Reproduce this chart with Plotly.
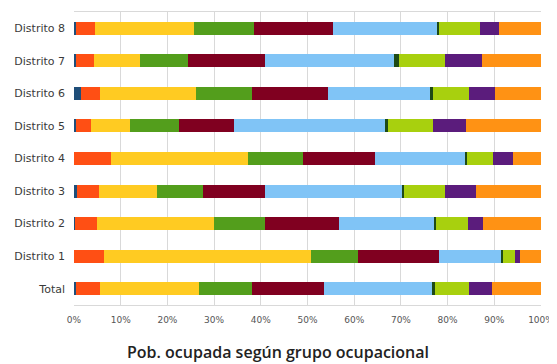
import plotly.graph_objects as go

categories = ["Total", "Distrito 1", "Distrito 2", "Distrito 3", "Distrito 4",
              "Distrito 5", "Distrito 6", "Distrito 7", "Distrito 8"]

g1 = [0.5, 0.0, 0.2, 0.7, 0.0, 0.5, 1.5, 0.4, 0.5]
g2 = [5.1, 6.4, 4.8, 4.7, 8.0, 3.1, 4.1, 3.9, 4.0]
g3 = [21.2, 44.3, 24.9, 12.3, 29.3, 8.3, 20.6, 9.8, 21.2]
g4 = [11.4, 10.2, 11.1, 9.9, 11.8, 10.5, 11.9, 10.3, 12.9]
g5 = [15.3, 17.2, 15.7, 13.4, 15.3, 11.9, 16.2, 16.6, 16.8]
g6 = [23.2, 13.5, 20.4, 29.2, 19.3, 32.3, 21.9, 27.5, 22.5]
g7 = [0.7, 0.3, 0.5, 0.5, 0.5, 0.6, 0.6, 1.0, 0.3]
g8 = [7.2, 2.5, 6.7, 8.7, 5.6, 9.7, 7.8, 10.0, 8.8]
g9 = [5.0, 1.2, 3.3, 6.6, 4.1, 7.0, 5.5, 7.8, 4.1]
g10 = [10.4, 4.4, 12.4, 14.0, 6.1, 16.1, 9.9, 12.7, 8.9]

series = [g1, g2, g3, g4, g5, g6, g7, g8, g9, g10]
colors = ["#1F4E79", "#FF4F14", "#FFCB22", "#539E1C", "#800020",
          "#80C4F6", "#1E4A16", "#A8D00E", "#5B1C7C", "#FF9214"]

tick_vals = [0, 10, 20, 30, 40, 50, 60, 70, 80, 90, 100]
tick_text = ["0%", "10%", "20%", "30%", "40%", "50%", "60%", "70%", "80%", "90%", "100%"]

# The page body has an 8px margin, so the figure is sized to fit inside it.
W, H = 549, 356
ML, MR, MT, MB = 66, 16, 4, 59

fig = go.Figure()
for i, (vals, col) in enumerate(zip(series, colors)):
    fig.add_trace(go.Bar(y=categories, x=vals, orientation="h",
                         marker=dict(color=col, line=dict(width=0)),
                         name=f"G{i+1}", showlegend=False))

plot_w = W - ML - MR
plot_h = H - MT - MB

fig.update_layout(
    barmode="stack",
    bargap=0.6,
    width=W, height=H,
    margin=dict(l=ML, r=MR, t=MT, b=MB),
    plot_bgcolor="white", paper_bgcolor="white",
    font=dict(family="DejaVu Sans, sans-serif", size=10, color="#444"),
    xaxis=dict(range=[0, 100], tickvals=tick_vals, ticktext=tick_text,
               showgrid=True, gridcolor="#D9D9D9", gridwidth=1,
               showline=True, linecolor="#D9D9D9", mirror=True,
               zeroline=False, ticks="outside", ticklen=6, tickcolor="rgba(0,0,0,0)",
               automargin=False,
               tickfont=dict(size=9, color="#555")),
    yaxis=dict(showgrid=False, showline=False, ticks="", automargin=False,
               ticklabelstandoff=8,
               tickfont=dict(size=11, color="#3a3a3a")),
    annotations=[dict(text="Pob. ocupada según grupo ocupacional",
                      x=(270 - ML) / plot_w, xref="paper",
                      y=(H - MB - 344) / plot_h, yref="paper", yanchor="middle",
                      showarrow=False,
                      font=dict(size=16, color="#222", family="Open Sans, sans-serif",
                                weight=600))],
)

fig.write_html("out.html")
